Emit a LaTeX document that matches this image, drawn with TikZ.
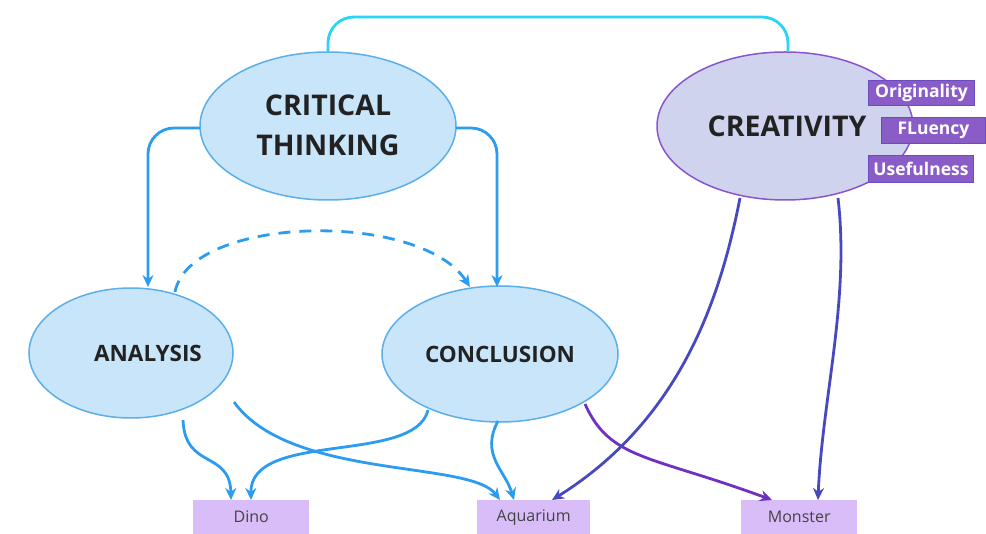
\documentclass[tikz,border=0pt]{standalone}
\usepackage{fontspec}
\setmainfont{Open Sans}
\usetikzlibrary{arrows.meta}
\definecolor{ctfill}{HTML}{C9E5F9}
\definecolor{ctline}{HTML}{5AAEEA}
\definecolor{crfill}{HTML}{CFD3EE}
\definecolor{crline}{HTML}{8A55CC}
\definecolor{tagfill}{HTML}{8A5CC8}
\definecolor{tagline}{HTML}{6A4BC0}
\definecolor{boxfill}{HTML}{D9BDF8}
\definecolor{arrblue}{HTML}{2C9CF0}
\definecolor{arrcyan}{HTML}{2AD4F5}
\definecolor{arrpurple}{HTML}{7030C0}
\definecolor{arrindigo}{HTML}{4848C0}
\definecolor{txt}{HTML}{222222}
\begin{document}
\begin{tikzpicture}[x=1pt,y=-1pt,
  blueell/.style={draw=ctline,fill=ctfill,line width=1.5pt},
  tag/.style={fill=tagfill,draw=tagline,line width=1pt,text=white,font=\fontsize{17.5}{20}\selectfont\bfseries,inner sep=0pt,anchor=north west},
  outbox/.style={fill=boxfill,inner sep=0pt,anchor=north west,text=txt!85,font=\fontsize{16}{18}\selectfont},
  tip/.style={-{Stealth[length=12pt,width=11pt]}},
  barr/.style={draw=arrblue,line width=2.8pt,tip}]
\useasboundingbox (0,0) rectangle (986,534);
% ellipses
\draw[blueell] (328,126) ellipse [x radius=128, y radius=74];
\node[font=\fontsize{28.5}{40}\selectfont\bfseries,text=txt,align=center] (ct) at (328,125) {CRITICAL\\THINKING};
\draw[draw=crline,fill=crfill,line width=1.5pt] (785,126) ellipse [x radius=128, y radius=74];
\node[font=\fontsize{28.5}{32}\selectfont\bfseries,text=txt] (cr) at (787,126) {CREATIVITY};
\draw[blueell] (131,353) ellipse [x radius=102, y radius=65];
\node[font=\fontsize{22.5}{26}\selectfont\bfseries,text=txt] (an) at (148,353) {ANALYSIS};
\draw[blueell] (500,354) ellipse [x radius=118, y radius=68];
\node[font=\fontsize{22.5}{26}\selectfont\bfseries,text=txt] (co) at (500,354) {CONCLUSION};
% tags
\node[tag,minimum width=106pt,minimum height=25pt] (orig) at (868,80) {Originality};
\node[tag,minimum width=104pt,minimum height=26pt] (flu) at (881,117) {FLuency};
\node[tag,minimum width=105pt,minimum height=27pt] (use) at (868,155) {Usefulness};
% output boxes
\node[outbox,minimum width=116pt,minimum height=34pt] (dino) at (193,500) {Dino};
\node[outbox,minimum width=113pt,minimum height=34pt] (aq) at (477,500) {Aquarium};
\node[outbox,minimum width=116pt,minimum height=34pt] (mon) at (741,500) {Monster};
% anchors
\coordinate (ctTop) at (328,52);
\coordinate (crTop) at (788,52);
\coordinate (ctL) at (200,128);
\coordinate (ctR) at (456,128);
\coordinate (anTop) at (148,287);
\coordinate (coTop) at (497,287);
\coordinate (anDash) at (175,292);
\coordinate (coDash) at (470,287);
\coordinate (anB1) at (183,420);
\coordinate (anB2) at (234,402);
\coordinate (coB1) at (428,410);
\coordinate (coB2) at (498,421);
\coordinate (coB3) at (585,404);
\coordinate (crB1) at (740,198);
\coordinate (crB2) at (838,198);
\coordinate (dinoA) at (231,500);
\coordinate (dinoB) at (251,500);
\coordinate (aqA) at (500,500);
\coordinate (aqB) at (514,500);
\coordinate (aqC) at (552,500);
\coordinate (monA) at (772,500);
\coordinate (monB) at (818,500);
% connectors
\draw[draw=arrcyan,line width=2.8pt,rounded corners=26pt] (ctTop) -- (328,17) -- (788,17) -- (crTop);
\draw[barr,rounded corners=26pt] (ctL) -- (148,128) -- (anTop);
\draw[barr,rounded corners=26pt] (ctR) -- (497,128) -- (coTop);
\draw[barr,dash pattern=on 12pt off 9pt] (anDash) .. controls (190,215) and (420,210) .. (coDash);
\draw[barr] (anB1) .. controls (185,470) and (230,450) .. (dinoA);
\draw[barr] (anB2) .. controls (290,480) and (470,460) .. (aqA);
\draw[barr] (coB1) .. controls (415,465) and (250,430) .. (dinoB);
\draw[barr] (coB2) .. controls (480,455) and (505,470) .. (aqB);
\draw[draw=arrpurple,line width=2.8pt,tip] (coB3) .. controls (610,460) and (650,455) .. (monA);
\draw[draw=arrindigo,line width=2.8pt,tip] (crB1) .. controls (720,300) and (680,420) .. (aqC);
\draw[draw=arrindigo,line width=2.8pt,tip] (crB2) .. controls (850,300) and (822,400) .. (monB);
\end{tikzpicture}
\end{document}
